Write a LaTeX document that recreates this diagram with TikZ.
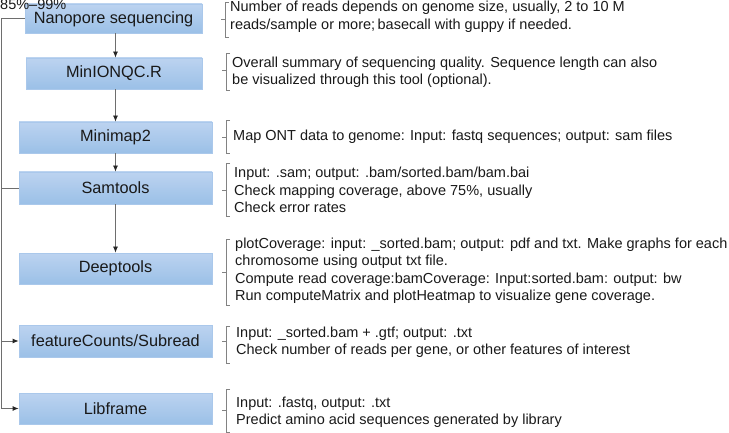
\documentclass[tikz,border=0pt]{standalone}
\usepackage{fontspec}
\setmainfont{Liberation Sans}
\usetikzlibrary{arrows.meta}
\definecolor{boxtop}{RGB}{188,211,240}
\definecolor{boxbot}{RGB}{155,192,231}
\definecolor{boxline}{RGB}{170,200,235}
\definecolor{conn}{RGB}{110,110,110}
\definecolor{brk}{RGB}{130,130,130}
\tikzset{
  stepbox/.style={draw=boxline, line width=0.8pt, top color=boxtop, bottom color=boxbot,
    minimum width=193pt, minimum height=31pt, inner sep=0pt,
    font=\fontsize{16.3}{18}\selectfont, text=black!90},
  note/.style={anchor=west, align=left, inner sep=0pt,
    font=\fontsize{14.5}{17.5}\selectfont, text=black!90},
  link/.style={draw=conn, line width=0.8pt},
  arr/.style={link, -{Latex[length=6pt,width=5pt,fill=black!85,color=black!85]}},
  brace/.style={draw=brk, line width=0.7pt}
}
\newcommand{\brk}[4]{% x, top, bottom, mid
  \draw[brace] (#1+4,#2) -- (#1,#2) -- (#1,#3) -- (#1+4,#3);
  \draw[brace] (#1,#4) -- (#1-4,#4);}
\begin{document}
\begin{tikzpicture}[x=1pt,y=-1pt]
\useasboundingbox (0,0) rectangle (729,433);
\coordinate (col) at (115.5,0);
\coordinate (rail) at (1.5,0);

\node[stepbox, minimum width=177pt, minimum height=29pt, text depth=1pt] (nano) at (113.5,18.5) {Nanopore sequencing};
\node[stepbox, minimum width=176pt] (minion) at (114,73.5) {MinIONQC.R};
\node[stepbox] (minimap) at (115.5,137.5) {Minimap2};
\node[stepbox, minimum height=32pt] (sam) at (115.5,188) {Samtools};
\node[stepbox] (deep) at (115.5,268.5) {Deeptools};
\node[stepbox, minimum height=32pt] (fc) at (115.5,341) {featureCounts/Subread};
\node[stepbox] (lib) at (115.5,408.5) {Libframe};

\draw[arr] (nano.south -| col) -- (minion.north -| col);
\draw[arr] (minion.south -| col) -- (minimap.north -| col);
\draw[arr] (minimap.south -| col) -- (sam.north -| col);
\draw[arr] (sam.south -| col) -- (deep.north -| col);

\draw[link] (nano.west) -- (nano.west -| rail) -- (lib.west -| rail);
\draw[link] (sam.west -| rail) -- (sam.west);
\draw[arr] (fc.west -| rail) -- (fc.west);
\draw[arr] (lib.west -| rail) -- (lib.west);

\node[anchor=base west, inner sep=0pt, font=\fontsize{14.5}{17}\selectfont, text=black!90] (pct) at (0,10) {85\%–99\%};

\node[note] (n1) at (230,17) {Number of reads depends on genome size, usually, 2 to 10 M\\reads/sample or more;\,basecall with guppy if needed.};
\node[note] (n2) at (232,72.5) {Overall summary of sequencing quality. Sequence length can also\\be visualized through this tool (optional).};
\node[note] (n3) at (233,137) {Map ONT data to genome: Input: fastq sequences; output: sam files};
\node[note] (n4) at (234,190) {Input: .sam; output: .bam/sorted.bam/bam.bai\\Check mapping coverage, above 75\%, usually\\Check error rates};
\node[note] (n5) at (235,271) {plotCoverage: input: \_sorted.bam; output: pdf and txt. Make graphs for each\\chromosome using output txt file.\\Compute read coverage:bamCoverage: Input:sorted.bam: output: bw\\Run computeMatrix and plotHeatmap to visualize gene coverage.};
\node[note] (n6) at (236,342.5) {Input: \_sorted.bam + .gtf; output: .txt\\Check number of reads per gene, or other features of interest};
\node[note] (n7) at (236,412.5) {Input: .fastq, output: .txt\\Predict amino acid sequences generated by library};

\brk{225}{2}{37}{19}
\brk{226}{53}{90}{70}
\brk{226}{120}{153}{137}
\brk{226}{163}{216}{190}
\brk{226}{239}{305}{272}
\brk{226}{326}{363}{341}
\brk{226}{389}{432}{410}
\end{tikzpicture}
\end{document}
